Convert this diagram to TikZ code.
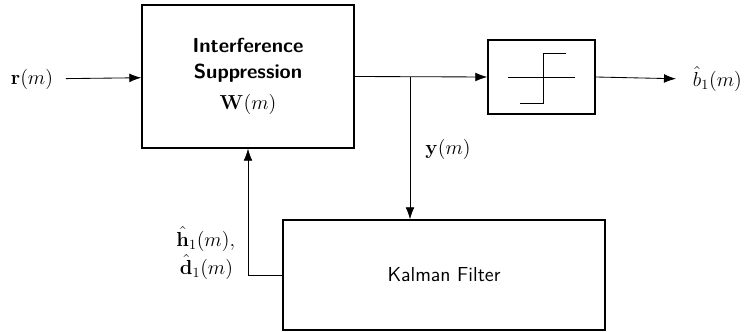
\documentclass[tikz,border=0pt]{standalone}
\usetikzlibrary{positioning, arrows.meta, calc}
\usepackage{amsmath}
\usepackage{xcolor}

\tikzset{
  blockbox/.style={draw, line width=1pt, rectangle, minimum width=#1},
  sig/.style={->, semithick, >={Latex[length=3mm,width=2.2mm]}},
  lbl/.style={font=\Large}
}

\begin{document}
\begin{tikzpicture}
  \useasboundingbox (0,0) rectangle (18.7,8.275);

  \node[blockbox=5.3cm, minimum height=3.575cm, align=center, font=\Large\sffamily\bfseries] (supp) at (6.2,6.3625) {Interference\\Suppression\\[4pt]$\mathbf{W}(m)$};
  \node[blockbox=2.675cm, minimum height=1.85cm] (dec) at (13.5375,6.35) {};
  \node[blockbox=8.05cm, minimum height=2.75cm, font=\Large\sffamily] (kf) at (11.1,1.4) {Kalman Filter};

  \node[lbl] (rin) at (0.8,6.3) {$\mathbf{r}(m)$};
  \node[lbl, anchor=west] (bout) at (17.2,6.3) {$\hat{b}_1(m)$};
  \node[lbl] (ylab) at (11.2,4.55) {$\mathbf{y}(m)$};
  \node[lbl, anchor=east] (hlab) at (6.0,2.3) {$\hat{\mathbf{h}}_1(m),$};
  \node[lbl, anchor=east] (dlab) at (5.95,1.6) {$\hat{\mathbf{d}}_1(m)$};

  \coordinate (branch) at (10.25,6.35);

  % hard decision symbol
  \draw[semithick] ($(dec.center)+(-0.84,0)$) -- ($(dec.center)+(0.84,0)$);
  \draw[semithick] ($(dec.center)+(-0.54,-0.65)$) -- ($(dec.center)+(0.04,-0.65)$)
    -- ($(dec.center)+(0.04,0.6)$) -- ($(dec.center)+(0.6,0.6)$);

  \draw[sig, shorten <=0.2cm] (rin) -- (supp);
  \draw[sig] (supp.east) -- (dec.west);
  \draw[sig, shorten >=0.3cm] (dec.east) -- (bout.west);
  \draw[sig] (branch) -- (branch |- kf.north);
  \draw[sig] (kf.west) -| (supp.south);
\end{tikzpicture}
\end{document}
